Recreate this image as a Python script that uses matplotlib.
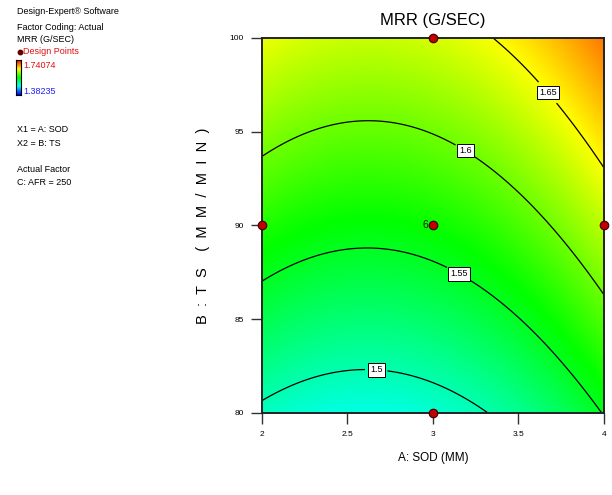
import numpy as np
import matplotlib.pyplot as plt
from matplotlib.colors import LinearSegmentedColormap

# quadratic model in coded units: a=(A-3)/1, b=(B-90)/10
# MRR = c0 + c1*a + c2*b + c12*a*b + c11*a^2 + c22*b^2
coef = {'c0': 1.5643, 'c1': 0.0275, 'c2': 0.0745, 'c12': -0.0008, 'c11': 0.0358, 'c22': -0.0026}
resp_min = 1.38235
resp_max = 1.74074
levels = [1.5, 1.55, 1.6, 1.65]
label_pos = [(2.67, 82.6), (3.17, 87.7), (3.21, 94.3), (3.71, 97.4)]
pts_A = [3, 2, 3, 4, 3]
pts_B = [100, 90, 90, 90, 80]
pts_txt = ['', '', '6', '', '']
xticks = [2, 2.5, 3, 3.5, 4]
yticks = [80, 85, 90, 95, 100]

plt.rcParams['font.family'] = ['Liberation Sans', 'DejaVu Sans']

A = np.linspace(2, 4, 241)
B = np.linspace(80, 100, 241)
AA, BB = np.meshgrid(A, B)
a = AA - 3
b = (BB - 90) / 10
Z = (coef['c0'] + coef['c1'] * a + coef['c2'] * b + coef['c12'] * a * b
     + coef['c11'] * a ** 2 + coef['c22'] * b ** 2)

de_cmap = LinearSegmentedColormap.from_list(
    'de', ['#0000ff', '#00ffff', '#00ff00', '#ffff00', '#ff0000'])

fig = plt.figure(figsize=(6.12, 4.95), dpi=100)
ax = fig.add_axes([0.4281, 0.1657, 0.5588, 0.7576])
ax.pcolormesh(AA, BB, Z, cmap=de_cmap, vmin=resp_min, vmax=resp_max, shading='gouraud')
cs = ax.contour(AA, BB, Z, levels=levels, colors='black', linewidths=0.9)
lbls = ax.clabel(cs, fmt={1.5: '1.5', 1.55: '1.55', 1.6: '1.6', 1.65: '1.65'},
                 manual=label_pos, inline=True, fontsize=6.5)
for t in lbls:
    t.set_rotation(0)
    t.set_bbox(dict(facecolor='white', edgecolor='black', pad=1.6, lw=0.7))

ax.scatter(pts_A, pts_B, s=38, c='#c00000', edgecolors='#400000', linewidths=0.8,
           zorder=5, clip_on=False)
for x, y, s in zip(pts_A, pts_B, pts_txt):
    if s:
        ax.text(x - 0.025, y, s, fontsize=7.5, ha='right', va='center', color='#102000')

ax.set_xlim(2, 4)
ax.set_ylim(80, 100)
ax.set_xticks(xticks)
ax.set_xticklabels(['2', '2.5', '3', '3.5', '4'])
ax.set_yticks(yticks)
ax.tick_params(direction='out', length=8, width=1, labelsize=6, pad=5, color='#333333')
for sp in ax.spines.values():
    sp.set_linewidth(1.4)
    sp.set_color('#222222')
ax.set_title('MRR (G/SEC)', fontsize=12, pad=9)
ax.set_xlabel('A: SOD (MM)', fontsize=8.5, labelpad=10)
ax.set_ylabel('B  :  T  S    (  M  M  /  M  I  N  )', fontsize=10.5, labelpad=14)

# left info panel
fs = 6.5
def px(x, y):
    return x / 612, 1 - y / 495
fig.text(*px(17, 12), 'Design-Expert\u00ae Software', fontsize=fs, va='center')
fig.text(*px(17, 27), 'Factor Coding: Actual', fontsize=fs, va='center')
fig.text(*px(17, 40), 'MRR (G/SEC)', fontsize=fs, va='center')
fig.text(*px(23, 52), 'Design Points', fontsize=fs, va='center', color='#e01010')
fig.add_artist(plt.Line2D([20 / 612], [1 - 52 / 495], marker='o', markersize=3.2,
                          color='#600000'))
fig.text(*px(23, 66), '1.74074', fontsize=fs, va='center', color='#e01010')
fig.text(*px(23, 91), '1.38235', fontsize=fs, va='center', color='#2020ff')
cax = fig.add_axes([16 / 612, 1 - 95 / 495, 5 / 612, 35 / 495])
cax.imshow(np.linspace(1, 0, 100).reshape(-1, 1), cmap=de_cmap, aspect='auto')
cax.set_xticks([])
cax.set_yticks([])
for sp in cax.spines.values():
    sp.set_linewidth(0.8)
fig.text(*px(17, 130), 'X1 = A: SOD', fontsize=fs, va='center')
fig.text(*px(17, 144), 'X2 = B: TS', fontsize=fs, va='center')
fig.text(*px(17, 170), 'Actual Factor', fontsize=fs, va='center')
fig.text(*px(17, 183), 'C: AFR = 250', fontsize=fs, va='center')

fig.savefig('out.png', dpi=100)
